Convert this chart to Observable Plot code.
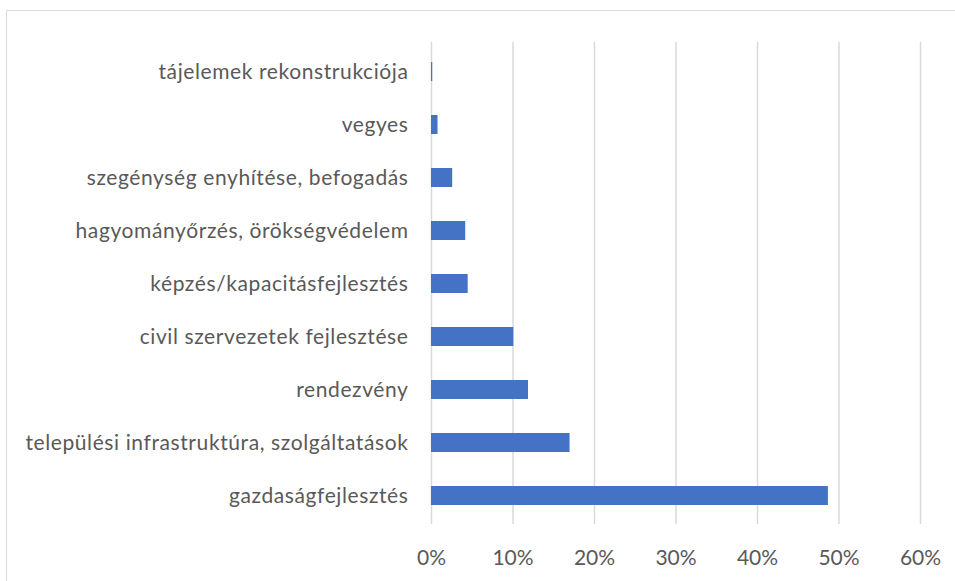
<!DOCTYPE html>
<html>
<head>
<meta charset="utf-8">
<script src="https://cdn.jsdelivr.net/npm/d3@7"></script>
<script src="https://cdn.jsdelivr.net/npm/@observablehq/plot@0.6"></script>
<style>
  html, body { margin: 0; padding: 0; background: #fff; }
  #wrap { position: relative; width: 955px; height: 581px; overflow: hidden; }
  #frame { position: absolute; left: 6px; top: 10px; width: 1000px; height: 700px; border: 1.5px solid #d9d9d9; box-sizing: border-box; pointer-events: none; }
  #chart { position: absolute; left: 0; top: 0; }
  g[aria-label="y-axis tick label"] text { letter-spacing: 0.6px; }
</style>
</head>
<body>
<div id="wrap"><div id="chart"></div><div id="frame"></div></div>
<script>
const categories = [
  "tájelemek rekonstrukciója",
  "vegyes",
  "szegénység enyhítése, befogadás",
  "hagyományőrzés, örökségvédelem",
  "képzés/kapacitásfejlesztés",
  "civil szervezetek fejlesztése",
  "rendezvény",
  "települési infrastruktúra, szolgáltatások",
  "gazdaságfejlesztés"
];
const values = [0.0015, 0.008, 0.026, 0.042, 0.045, 0.101, 0.119, 0.170, 0.487];
const xTicks = [0, 0.1, 0.2, 0.3, 0.4, 0.5, 0.6];

const data = categories.map((c, i) => ({category: c, value: values[i]}));

const chart = Plot.plot({
  width: 955,
  height: 581,
  marginLeft: 431,
  marginRight: 35,
  marginTop: 42,
  marginBottom: 57,
  style: {fontFamily: "Lato, 'Open Sans', sans-serif", fontSize: "21px", color: "#595959", background: "transparent"},
  x: {domain: [0, 0.6], ticks: xTicks, tickFormat: d3.format(".0%"), label: null},
  y: {domain: categories, paddingInner: 0.645, paddingOuter: 0.29, label: null},
  marks: [
    Plot.gridX(xTicks, {stroke: "#d9d9d9", strokeOpacity: 1, strokeWidth: 1.5}),
    Plot.barX(data, {x: "value", y: "category", fill: "#4472C4"}),
    Plot.axisX({ticks: xTicks, tickFormat: d3.format(".0%"), tickSize: 0, tickPadding: 26, fill: "#595959", fontSize: 21, label: null}),
    Plot.axisY({tickSize: 0, tickPadding: 23, fill: "#595959", fontSize: 21, label: null})
  ]
});
document.getElementById("chart").appendChild(chart);
</script>
</body>
</html>
